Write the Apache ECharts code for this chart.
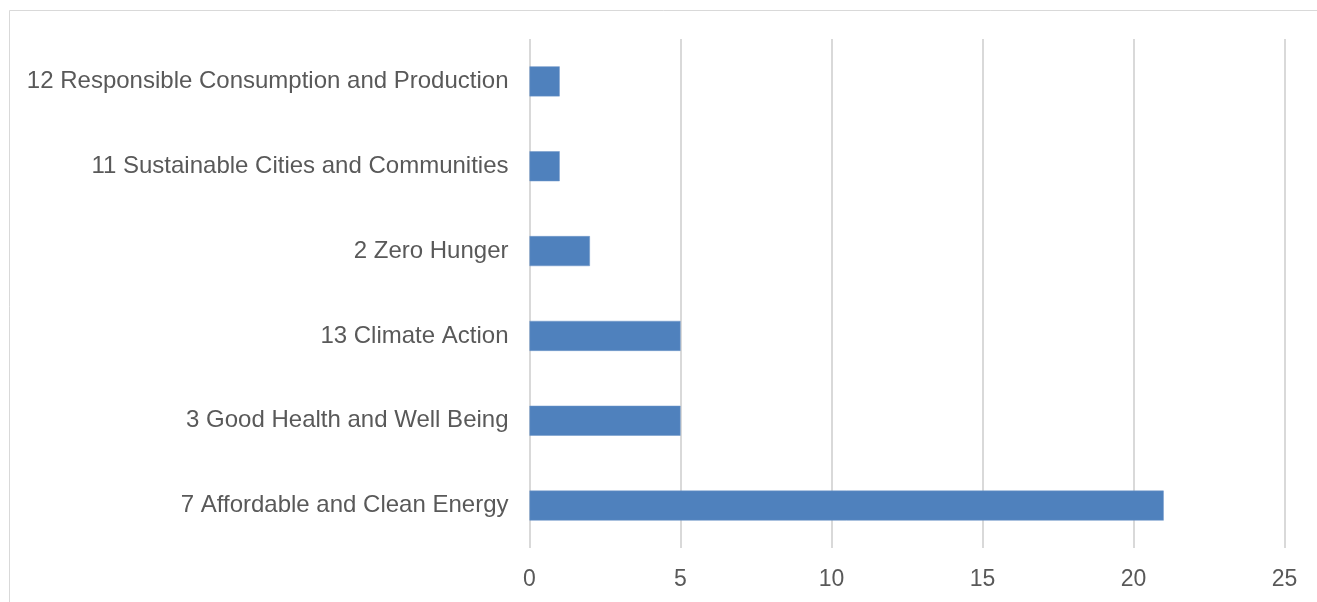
<!DOCTYPE html>
<html>
<head>
<meta charset="utf-8">
<script src="https://cdn.jsdelivr.net/npm/echarts@6/dist/echarts.min.js"></script>
<style>
html,body{margin:0;padding:0;background:#fff;}
#c{width:1317px;height:602px;}
</style>
</head>
<body>
<div id="c"></div>
<script>
const categories = [
  "7 Affordable and Clean Energy",
  "3 Good Health and Well Being",
  "13 Climate Action",
  "2 Zero Hunger",
  "11 Sustainable Cities and Communities",
  "12 Responsible Consumption and Production"
];
const values = [21, 5, 5, 2, 1, 1];
const xTicks = [0, 5, 10, 15, 20, 25];

const chart = echarts.init(document.getElementById('c'), null, {renderer: 'canvas'});
chart.setOption({
  animation: false,
  backgroundColor: '#fff',
  textStyle: {fontFamily: 'Liberation Sans, Arial, sans-serif'},
  graphic: [{
    type: 'rect',
    shape: {x: 9.5, y: 10.5, width: 1400, height: 700},
    style: {fill: 'none', stroke: '#d9d9d9', lineWidth: 1},
    silent: true
  }],
  grid: {left: 529.5, right: 32.5, top: 39, bottom: 54, containLabel: false},
  xAxis: {
    type: 'value',
    min: xTicks[0],
    max: xTicks[xTicks.length - 1],
    interval: 5,
    axisLine: {show: false},
    axisTick: {show: false},
    splitLine: {show: true, lineStyle: {color: '#d9d9d9', width: 2}},
    axisLabel: {color: '#595959', fontSize: 23, margin: 20, fontFamily: 'Liberation Sans, Arial, sans-serif'}
  },
  yAxis: {
    type: 'category',
    data: categories,
    axisLine: {show: false},
    axisTick: {show: false},
    axisLabel: {color: '#595959', fontSize: 24, margin: 21, padding: [4, 0, 0, 0], fontFamily: 'Liberation Sans, Arial, sans-serif'}
  },
  series: [{
    type: 'bar',
    data: values,
    barWidth: 30,
    itemStyle: {color: '#4F81BD', borderColor: '#6f97c9', borderWidth: 0.5}
  }]
});
</script>
</body>
</html>
